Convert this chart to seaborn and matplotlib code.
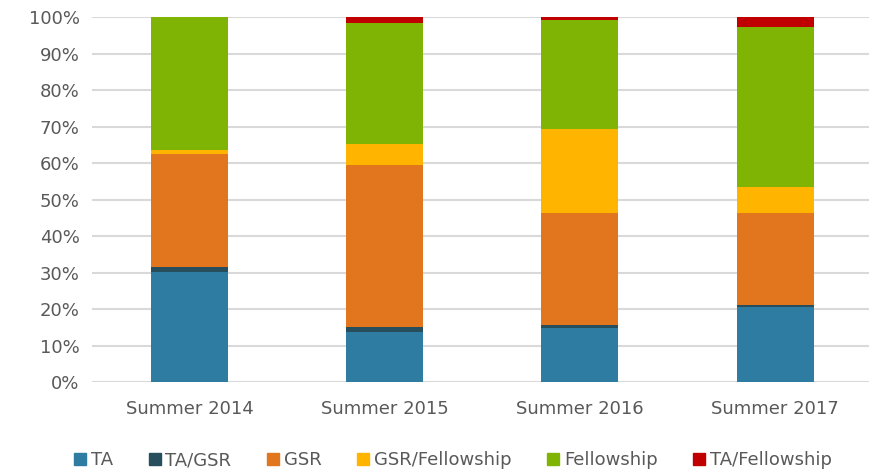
import numpy as np
import pandas as pd
import matplotlib
matplotlib.use('Agg')
import matplotlib.pyplot as plt
import seaborn as sns
from matplotlib.lines import Line2D

# values (percent of students per summer)
years = ['Summer 2014', 'Summer 2015', 'Summer 2016', 'Summer 2017']
series = ['TA', 'TA/GSR', 'GSR', 'GSR/Fellowship', 'Fellowship', 'TA/Fellowship']
ta = [30.2, 13.8, 14.9, 20.6]
ta_gsr = [1.4, 1.4, 0.7, 0.6]
gsr = [31.0, 44.4, 30.6, 25.0]
gsr_fellow = [1.0, 5.6, 23.1, 7.2]
fellow = [36.4, 33.1, 30.0, 43.9]
ta_fellow = [0.0, 1.7, 0.7, 2.7]
colors = ['#2E7CA1', '#264E5C', '#E1761F', '#FFB400', '#80B404', '#C00000']

sns.set_style('white')
plt.rcParams['font.family'] = ['DejaVu Sans']
text_col = '#595959'

df = pd.DataFrame({'Year': years, 'TA': ta, 'TA/GSR': ta_gsr, 'GSR': gsr,
                   'GSR/Fellowship': gsr_fellow, 'Fellowship': fellow,
                   'TA/Fellowship': ta_fellow})
# cumulative shares, drawn from the top series down so each bar covers the one below
cum = df[series].cumsum(axis=1) / 100

fig = plt.figure(figsize=(8.7, 4.72), dpi=100)
ax = fig.add_axes([0.106, 0.1907, 0.897, 0.773])

for s, c in reversed(list(zip(series, colors))):
    sns.barplot(x=df['Year'], y=cum[s], color=c, width=0.395, ax=ax,
                saturation=1, linewidth=0, zorder=3)

ax.set_ylim(0, 1)
ax.set_xlim(-0.5, 3.5)
ax.set_yticks(np.arange(0, 1.01, 0.1))
ax.set_yticklabels([f'{int(v)}%' for v in np.arange(0, 101, 10)])
ax.yaxis.grid(True, color='#d9d9d9', linewidth=1.5, zorder=0)
ax.set_axisbelow(True)
for sp in ax.spines.values():
    sp.set_visible(False)
ax.set_xlabel('')
ax.set_ylabel('')
ax.tick_params(axis='both', length=0, labelsize=13, colors=text_col)
ax.tick_params(axis='x', pad=13)
ax.tick_params(axis='y', pad=9)

handles = [Line2D([], [], marker='s', linestyle='', markersize=8,
                  markerfacecolor=c, markeredgecolor=c) for c in colors]
leg = fig.legend(handles, series, loc='center', bbox_to_anchor=(0.521, 0.025),
                 ncol=6, frameon=False, fontsize=13, handlelength=0.6,
                 handletextpad=0.3, columnspacing=2.0)
for t in leg.get_texts():
    t.set_color(text_col)

fig.savefig('out.png', dpi=100)
